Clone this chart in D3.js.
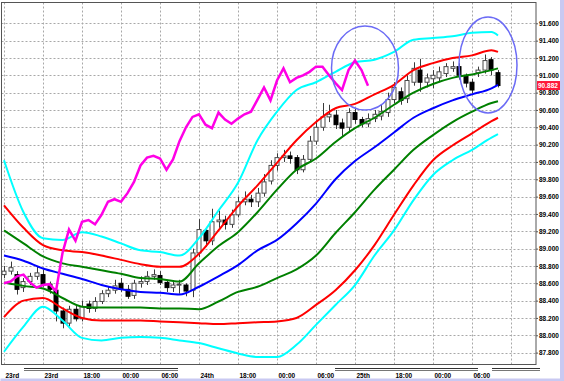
<!DOCTYPE html>
<html><head><meta charset="utf-8">
<script src="https://cdn.jsdelivr.net/npm/d3@7"></script>
<style>
html,body{margin:0;padding:0;background:#fff;}
svg{display:block;}
.lbl{font-family:"Liberation Sans",Arial,sans-serif;font-size:6.5px;font-weight:bold;fill:#000;}
</style></head>
<body>
<script>
// ---------- DATA ----------
const open  = [88.70,88.74,88.70,88.55,88.62,88.68,88.70,88.59,88.52,88.28,88.14,88.30,88.19,88.36,88.31,88.39,88.48,88.52,88.60,88.53,88.46,88.60,88.62,88.68,88.69,88.61,88.55,88.58,88.58,88.52,88.95,89.21,89.09,89.31,89.33,89.28,89.39,89.54,89.57,89.54,89.64,89.78,89.96,90.05,90.07,90.05,89.91,90.03,90.24,90.40,90.52,90.54,90.45,90.40,90.57,90.49,90.44,90.50,90.53,90.57,90.72,90.81,90.73,90.92,91.06,90.92,90.96,90.97,91.02,91.08,91.10,91.00,90.92,91.03,91.06,91.18,91.03];
const high  = [88.80,88.85,88.74,88.66,88.72,88.80,88.76,88.62,88.55,88.32,88.34,88.36,88.40,88.40,88.44,88.52,88.56,88.64,88.66,88.58,88.64,88.68,88.74,88.76,88.74,88.64,88.62,88.64,88.60,89.00,89.34,89.25,89.46,89.44,89.38,89.45,89.60,89.66,89.62,89.70,89.86,90.02,90.10,90.14,90.12,90.08,90.08,90.30,90.48,90.68,90.66,90.60,90.50,90.62,90.62,90.52,90.56,90.60,90.66,90.80,90.92,90.86,91.00,91.15,91.19,91.02,91.06,91.10,91.14,91.16,91.14,91.02,90.96,91.10,91.24,91.21,91.06];
const low   = [88.66,88.70,88.47,88.50,88.58,88.64,88.56,88.48,88.16,88.08,88.10,88.16,88.16,88.26,88.27,88.36,88.44,88.48,88.50,88.42,88.42,88.55,88.58,88.64,88.58,88.50,88.50,88.48,88.45,88.44,88.90,89.02,89.04,89.24,89.22,89.24,89.36,89.50,89.48,89.48,89.60,89.74,89.90,90.00,89.98,89.86,89.88,90.00,90.20,90.36,90.46,90.38,90.30,90.34,90.44,90.40,90.40,90.46,90.48,90.52,90.68,90.66,90.68,90.88,90.81,90.86,90.85,90.92,90.98,91.04,90.95,90.86,90.79,90.98,91.02,91.00,90.86];
const close = [88.74,88.78,88.53,88.62,88.68,88.72,88.59,88.53,88.28,88.14,88.30,88.19,88.33,88.31,88.39,88.48,88.52,88.57,88.53,88.45,88.60,88.62,88.68,88.70,88.61,88.55,88.58,88.59,88.51,88.95,89.22,89.09,89.31,89.33,89.28,89.39,89.54,89.57,89.54,89.64,89.77,89.96,90.05,90.07,90.04,89.91,90.03,90.24,90.40,90.52,90.55,90.43,90.39,90.57,90.49,90.44,90.50,90.55,90.58,90.72,90.86,90.71,90.94,91.08,90.92,90.97,91.00,91.04,91.10,91.10,91.00,90.91,90.83,91.06,91.17,91.06,90.882];
// lagging span (magenta), plotted from bar 0
const lagging = [88.60,88.62,88.68,88.70,88.61,88.55,88.58,88.59,88.51,88.95,89.22,89.09,89.31,89.33,89.28,89.39,89.54,89.57,89.54,89.64,89.77,89.96,90.05,90.07,90.04,89.91,90.03,90.24,90.40,90.52,90.55,90.43,90.39,90.57,90.49,90.44,90.50,90.55,90.58,90.72,90.86,90.71,90.94,91.08,90.92,90.97,91.00,91.04,91.10,91.10,91.00,90.91,90.83,91.06,91.17,91.06,90.88];
// band sample bars
const bandBars = [0,3,6,9,12,15,18,21,24,27,30,33,36,39,42,45,48,51,54,57,60,63,66,69,72,75,76];
const midLine  = [88.92,88.86,88.77,88.71,88.65,88.58,88.53,88.50,88.49,88.47,88.56,88.68,88.81,88.98,89.10,89.29,89.52,89.80,90.01,90.17,90.34,90.51,90.62,90.71,90.78,90.85,90.89];
const up1 = [89.21,89.06,88.91,88.83,88.79,88.75,88.71,88.66,88.65,88.62,88.83,89.03,89.19,89.42,89.68,89.91,90.04,90.23,90.39,90.51,90.66,90.80,90.90,90.97,91.01,91.06,91.08];
const dn1 = [88.61,88.57,88.54,88.43,88.33,88.32,88.32,88.32,88.31,88.31,88.30,88.39,88.50,88.56,88.66,88.76,88.92,89.18,89.42,89.68,89.91,90.14,90.31,90.46,90.58,90.68,90.70];
const up2 = [89.50,89.24,89.04,88.98,88.96,88.92,88.87,88.82,88.79,88.79,88.94,89.21,89.49,89.73,89.99,90.25,90.46,90.62,90.67,90.78,90.89,91.06,91.14,91.20,91.23,91.29,91.27];
const dn2 = [88.21,88.40,88.43,88.31,88.20,88.17,88.17,88.17,88.16,88.15,88.14,88.13,88.14,88.15,88.16,88.20,88.35,88.52,88.75,89.04,89.39,89.73,90.02,90.19,90.33,90.47,90.51];
const up3 = [90.02,89.42,89.12,89.10,89.19,89.14,89.06,88.98,88.96,88.92,89.12,89.44,89.76,90.25,90.58,90.83,90.92,91.04,91.15,91.18,91.27,91.41,91.43,91.45,91.49,91.50,91.46];
const dn3 = [87.81,88.10,88.33,88.17,87.97,87.94,87.97,87.98,87.97,87.94,87.91,87.85,87.79,87.75,87.75,87.89,88.12,88.35,88.58,88.92,89.21,89.56,89.85,90.02,90.14,90.28,90.32];
const yTicks = [87.8,88.0,88.2,88.4,88.6,88.8,89.0,89.2,89.4,89.6,89.8,90.0,90.2,90.4,90.6,90.8,91.0,91.2,91.4,91.6];
const xTickBars = [0,6,12,18,24,30,36,42,48,54,60,66,72];
const xTickLabels = ["23rd","23rd","18:00","00:00","06:00","24th","18:00","00:00","06:00","25th","18:00","00:00","06:00"];
const gridBars = [0,6,12,18,24,30,36,42,48,54,60,66,72,78];
const lastPrice = 90.882;

// ---------- LAYOUT ----------
const W = 564, H = 381;
const L = 1.5, T = 2.5, R = 536, B = 364.5;
const x = d3.scaleLinear().domain([0, 76]).range([4, 498]);
const y = d3.scaleLinear().domain([87.8, 91.6]).range([352.6, 23.3]);

const svg = d3.select("body").append("svg").attr("width", W).attr("height", H);
svg.append("rect").attr("width", W).attr("height", H).attr("fill", "#fff");

const clip = svg.append("clipPath").attr("id","plot").append("rect")
  .attr("x", L).attr("y", T).attr("width", R - L).attr("height", B - T);

// grid
const grid = svg.append("g").attr("stroke", "#a8a8a8").attr("stroke-dasharray", "2,2").attr("stroke-width", 1);
grid.selectAll("line.h").data(yTicks).join("line")
  .attr("x1", L).attr("x2", R).attr("y1", d => Math.round(y(d)) + 0.5).attr("y2", d => Math.round(y(d)) + 0.5);
grid.selectAll("line.v").data(gridBars.filter(b => x(b) < R)).join("line")
  .attr("x1", d => Math.round(x(d)) + 0.5).attr("x2", d => Math.round(x(d)) + 0.5).attr("y1", T).attr("y2", B);

const plot = svg.append("g").attr("clip-path", "url(#plot)");

// candles
const bars = d3.range(close.length);
const cw = 5;
const cg = plot.append("g");
cg.selectAll("line.w").data(bars).join("line")
  .attr("x1", i => Math.round(x(i)) + 0.5).attr("x2", i => Math.round(x(i)) + 0.5)
  .attr("y1", i => y(high[i])).attr("y2", i => y(low[i]))
  .attr("stroke", "#3a3a3a").attr("stroke-width", 1);
cg.selectAll("rect").data(bars).join("rect")
  .attr("x", i => Math.round(x(i)) - 2)
  .attr("y", i => y(Math.max(open[i], close[i])))
  .attr("width", cw - 1)
  .attr("height", i => Math.max(1, Math.abs(y(open[i]) - y(close[i]))))
  .attr("fill", i => close[i] >= open[i] ? "#fff" : "#000")
  .attr("stroke", i => close[i] >= open[i] ? "#4a4a4a" : "#000")
  .attr("stroke-width", 1);

// bands
const bandLine = d3.line().x(d => x(d[0])).y(d => y(d[1])).curve(d3.curveMonotoneX);
const bands = [
  [up3, "#00ffff"], [dn3, "#00ffff"],
  [up2, "#ff0000"], [dn2, "#ff0000"],
  [up1, "#008000"], [dn1, "#008000"],
  [midLine, "#0000ff"]
];
bands.forEach(([arr, col]) => {
  plot.append("path").datum(bandBars.map((b, k) => [b, arr[k]]))
    .attr("d", bandLine).attr("fill", "none").attr("stroke", col).attr("stroke-width", 2);
});

// lagging span
plot.append("path").datum(lagging.map((v, k) => [k, v]))
  .attr("d", d3.line().x(d => x(d[0])).y(d => y(d[1])))
  .attr("fill", "none").attr("stroke", "#ff00e6").attr("stroke-width", 2.5).attr("stroke-linejoin", "miter");

// frame
svg.append("rect").attr("x", L).attr("y", T).attr("width", R - L).attr("height", B - T)
  .attr("fill", "none").attr("stroke", "#555").attr("stroke-width", 1);

// y axis
const yAxis = svg.append("g").attr("transform", `translate(${R},0)`)
  .call(d3.axisRight(y).tickValues(yTicks).tickFormat(d3.format(".3f")).tickSize(2).tickPadding(1));
yAxis.select(".domain").remove();
yAxis.selectAll("text").attr("class", "lbl").attr("text-anchor", "start");
yAxis.selectAll(".tick line").attr("stroke", "#555");

// x axis
const xAxis = svg.append("g").attr("transform", `translate(0,${B})`)
  .call(d3.axisBottom(x).tickValues(xTickBars).tickFormat((d, k) => xTickLabels[k]).tickSize(0).tickPadding(9));
xAxis.select(".domain").remove();
xAxis.selectAll("text").attr("class", "lbl").attr("text-anchor", "start").attr("dx", 1);

// separators below axis
const seps = [[24,178],[335,478],[492,540]];
svg.selectAll("g.sep").data(seps).join("g").each(function(d){
  const g = d3.select(this);
  g.append("line").attr("x1", d[0]).attr("x2", d[1]).attr("y1", 368.5).attr("y2", 368.5).attr("stroke", "#333");
  g.append("line").attr("x1", d[0]).attr("x2", d[1]).attr("y1", 370.5).attr("y2", 370.5).attr("stroke", "#777");
});

// last price label
const ly = y(lastPrice);
svg.append("rect").attr("x", R + 1).attr("y", ly - 4.5).attr("width", 23).attr("height", 9).attr("fill", "#ff1a3a");
svg.append("text").attr("class", "lbl").attr("x", R + 2).attr("y", ly + 2.3).style("fill", "#fff").text(d3.format(".3f")(lastPrice));

// ellipses
svg.append("ellipse").attr("cx", 365).attr("cy", 68).attr("rx", 33.5).attr("ry", 42)
  .attr("fill", "none").attr("stroke", "#6b6bf5").attr("stroke-width", 1.5);
svg.append("ellipse").attr("cx", 488).attr("cy", 65).attr("rx", 29).attr("ry", 48)
  .attr("fill", "none").attr("stroke", "#6b6bf5").attr("stroke-width", 1.5);

// window border
svg.append("rect").attr("x", 0.5).attr("y", 378.5).attr("width", W).attr("height", 3).attr("fill", "#c9c9f2");
svg.append("rect").attr("x", 560).attr("y", 0).attr("width", 4).attr("height", H).attr("fill", "#c9c9f2");
</script>
</body></html>
